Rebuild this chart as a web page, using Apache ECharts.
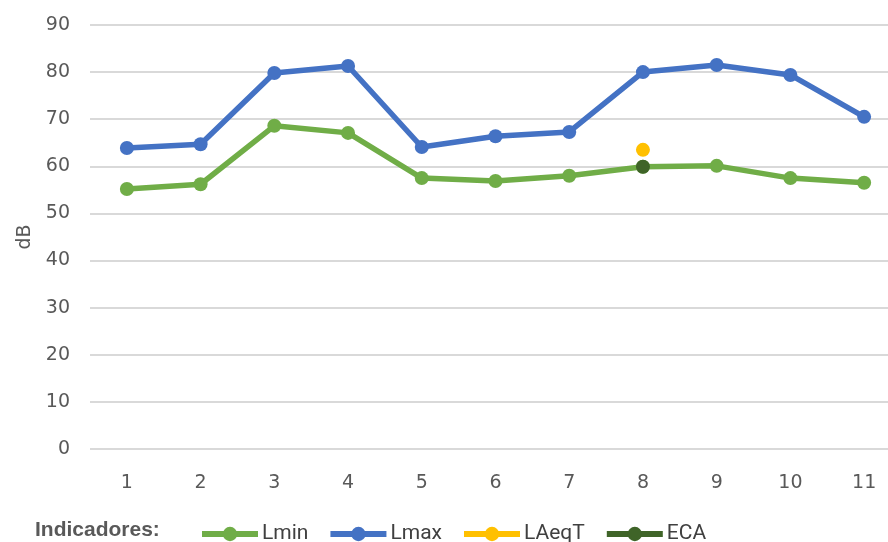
<!DOCTYPE html>
<html>
<head>
<meta charset="utf-8">
<script src="https://cdn.jsdelivr.net/npm/echarts@6/dist/echarts.min.js"></script>
<style>
  html, body { margin: 0; padding: 0; background: #fff; overflow: hidden; }
  #chart { width: 901px; height: 542px; }
</style>
</head>
<body>
<div id="chart"></div>
<script>
const categories = ['1', '2', '3', '4', '5', '6', '7', '8', '9', '10', '11']
const lmin = [55.2, 56.2, 68.6, 67.1, 57.5, 56.9, 58.0, 59.9, 60.1, 57.5, 56.5]
const lmax = [63.9, 64.7, 79.8, 81.3, 64.1, 66.4, 67.3, 80.0, 81.5, 79.4, 70.5]
const laeqt = [null, null, null, null, null, null, null, 63.5, null, null, null]
const eca = [null, null, null, null, null, null, null, 59.9, null, null, null]

const tickFont = "'DejaVu Sans', sans-serif"

function lineSeries(name, data, color) {
  return {
    name: name,
    type: 'line',
    data: data,
    symbol: 'circle',
    symbolSize: 14,
    showSymbol: true,
    connectNulls: false,
    lineStyle: { width: 5.5, color: color },
    itemStyle: { color: color },
    emphasis: { disabled: true }
  }
}

const chart = echarts.init(document.getElementById('chart'))
chart.setOption({
  animation: false,
  title: {
    text: 'Indicadores:',
    left: 35,
    top: 520,
    padding: 0,
    textStyle: { fontFamily: "'Liberation Sans', Arial, sans-serif", fontSize: 21, fontWeight: 'bold', color: '#595959' }
  },
  legend: {
    left: 199,
    top: 523,
    padding: 0,
    itemWidth: 56,
    itemHeight: 18,
    itemGap: 19,
    lineStyle: { width: 6 },
    textStyle: { fontFamily: 'Roboto, sans-serif', fontSize: 21, lineHeight: 22, color: '#404040', padding: [0, 0, 0, -1] },
    data: ['Lmin', 'Lmax', 'LAeqT', 'ECA']
  },
  grid: {
    left: 90,
    top: 25,
    right: 0,
    height: 424,
    containLabel: false
  },
  xAxis: {
    type: 'category',
    data: categories,
    boundaryGap: true,
    axisLine: { show: false },
    axisTick: { show: false },
    axisLabel: { fontFamily: tickFont, fontSize: 19, color: '#595959', margin: 25 }
  },
  yAxis: {
    type: 'value',
    min: 0,
    max: 90,
    interval: 10,
    name: 'dB',
    nameLocation: 'middle',
    nameGap: 50,
    nameTextStyle: { fontFamily: tickFont, fontSize: 19, color: '#595959' },
    axisLabel: { fontFamily: tickFont, fontSize: 19, color: '#595959', margin: 20 },
    splitLine: { lineStyle: { color: '#d9d9d9', width: 2 } }
  },
  series: [
    lineSeries('Lmin', lmin, '#70AD47'),
    lineSeries('Lmax', lmax, '#4472C4'),
    lineSeries('LAeqT', laeqt, '#FFC000'),
    lineSeries('ECA', eca, '#3F6428')
  ]
})
</script>
</body>
</html>
